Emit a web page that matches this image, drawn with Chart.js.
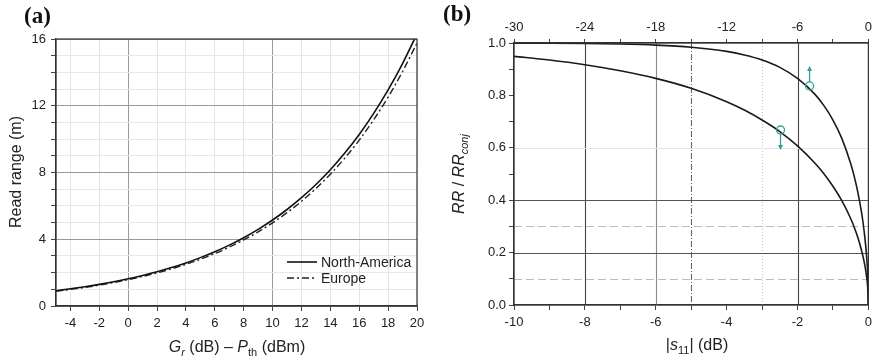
<!DOCTYPE html>
<html>
<head>
<meta charset="utf-8">
<script src="https://cdn.jsdelivr.net/npm/chart.js@4.4.1/dist/chart.umd.min.js"></script>
<style>
body { margin: 0; background: #fff; width: 877px; height: 364px; position: relative; overflow: hidden; font-family: Arial, "Liberation Sans", sans-serif; }
.panel { position: absolute; top: 0; }
.lab { position: absolute; font-family: "Liberation Serif", "Times New Roman", serif; font-weight: bold; font-size: 23px; line-height: 1; color: #111; }
.ttl { position: absolute; font-size: 16px; line-height: 1; color: #222; white-space: nowrap; transform: translate(-50%, -50%); }
.ttl.rot { transform: translate(-50%, -50%) rotate(-90deg); }
.ttl sub { font-size: 11px; vertical-align: -4px; line-height: 0; }
</style>
</head>
<body>

<canvas id="chartA" class="panel" width="440" height="364" style="left:0"></canvas>
<canvas id="chartB" class="panel" width="437" height="364" style="left:440px"></canvas>

<div class="lab" style="left:24px; top:4px">(a)</div>
<div class="lab" style="left:443px; top:2px">(b)</div>

<div class="ttl rot" style="left:16px; top:172px">Read range (m)</div>
<div class="ttl" style="left:237px; top:347px"><i>G</i><sub><i>r</i></sub> (dB) &ndash; <i>P</i><sub>th</sub> (dBm)</div>
<div class="ttl rot" style="left:459px; top:174px"><i>RR</i> / <i>RR<sub>conj</sub></i></div>
<div class="ttl" style="left:697px; top:345px">|<i>s</i><sub>11</sub>| (dB)</div>

<script>
// ---- panel (a): read range vs Gr - Pth
var aX = [-5, -4, -3, -2, -1, 0, 1, 2, 3, 4, 5, 6, 7, 8, 9, 10, 11, 12, 13, 14, 15, 16, 17, 18, 19, 20];
var aNorthAmerica = [0.917, 1.029, 1.154, 1.295, 1.453, 1.630, 1.829, 2.052, 2.302, 2.583, 2.899, 3.252, 3.649,
    4.094, 4.594, 5.154, 5.783, 6.489, 7.281, 8.169, 9.166, 10.28, 11.54, 12.95, 14.53, 16.30];
var aEurope = [0.887, 0.995, 1.116, 1.252, 1.405, 1.576, 1.769, 1.984, 2.226, 2.498, 2.803, 3.145, 3.529,
    3.959, 4.442, 4.984, 5.592, 6.275, 7.041, 7.899, 8.864, 9.940, 11.16, 12.52, 14.05, 15.76];
var aXTicks = [-4, -2, 0, 2, 4, 6, 8, 10, 12, 14, 16, 18, 20];
var aYTicks = [0, 4, 8, 12, 16];

// ---- panel (b): RR/RRconj vs |s11|
var bS11 = [-10, -9, -8, -7, -6, -5, -4, -3.5, -3, -2.5, -2, -1.5, -1.25, -1, -0.75, -0.5, -0.4, -0.3, -0.2, -0.15, -0.1, -0.05, -0.02, 0];
var bUpper = [0.9995, 0.999, 0.998, 0.996, 0.992, 0.984, 0.968, 0.954, 0.935, 0.907, 0.865, 0.803, 0.760, 0.706,
    0.636, 0.540, 0.491, 0.432, 0.359, 0.314, 0.258, 0.185, 0.117, 0];
var bLower = [0.949, 0.935, 0.917, 0.894, 0.865, 0.827, 0.776, 0.744, 0.706, 0.662, 0.607, 0.540, 0.500, 0.453,
    0.398, 0.330, 0.297, 0.259, 0.212, 0.184, 0.151, 0.107, 0.068, 0];
var bXTicks = [-10, -8, -6, -4, -2, 0];
var bTopTicks = [-30, -24, -18, -12, -6, 0];
var bYTicks = [0, 0.2, 0.4, 0.6, 0.8, 1.0];
var bGridX = [-8, -6, -5, -3, -2];
var bGridY = [0.1, 0.2, 0.3, 0.4, 0.6];
var bMarkX = [-1.66, -2.48];
var bMarkY = [0.836, 0.668];
var bMarkDir = [1, -1];

var TICK_FONT = { family: 'Arial, "Liberation Sans", sans-serif', size: 13 };
var TICK_COLOR = '#222';

function range(from, to, step) {
    var out = [];
    for (var v = from; v <= to + 1e-9; v += step) out.push(Math.round(v * 1000) / 1000);
    return out;
}

function xy(xs, ys) {
    return xs.map(function (x, i) { return { x: x, y: ys[i] }; });
}

var framePlugin = {
    id: 'frame',
    afterDraw: function (chart) {
        var a = chart.chartArea, ctx = chart.ctx;
        ctx.save();
        ctx.strokeStyle = '#333';
        ctx.lineWidth = 1.2;
        ctx.strokeRect(a.left, a.top, a.right - a.left, a.bottom - a.top);
        ctx.restore();
    }
};

var legendPlugin = {
    id: 'boxLegend',
    afterDraw: function (chart) {
        var a = chart.chartArea, ctx = chart.ctx;
        ctx.save();
        ctx.font = '14px Arial, "Liberation Sans", sans-serif';
        ctx.fillStyle = '#222';
        ctx.textBaseline = 'middle';
        chart.data.datasets.forEach(function (ds, i) {
            var x = a.right - 130, y = a.bottom - 44 + i * 16;
            ctx.strokeStyle = ds.borderColor;
            ctx.lineWidth = ds.borderWidth;
            ctx.setLineDash(ds.borderDash || []);
            ctx.beginPath();
            ctx.moveTo(x, y);
            ctx.lineTo(x + 30, y);
            ctx.stroke();
            ctx.setLineDash([]);
            ctx.fillText(ds.label, x + 34, y + 1);
        });
        ctx.restore();
    }
};

// reference lines of panel (b)
var bGridXStyle = [
    { color: '#444', dash: [] },
    { color: '#8a8a8a', dash: [] },
    { color: '#666', dash: [6, 2, 1, 2] },
    { color: '#c4c4c4', dash: [1, 2] },
    { color: '#444', dash: [] }
];
var bGridYStyle = [
    { color: '#bdbdbd', dash: [8, 4] },
    { color: '#555', dash: [] },
    { color: '#bdbdbd', dash: [8, 4] },
    { color: '#555', dash: [] },
    { color: '#f1dfe1', dash: [] }
];

var bGridPlugin = {
    id: 'bGrid',
    beforeDatasetsDraw: function (chart) {
        var a = chart.chartArea, ctx = chart.ctx;
        var xs = chart.scales.x, ys = chart.scales.y;
        ctx.save();
        ctx.lineWidth = 1.1;
        bGridX.forEach(function (v, i) {
            var px = Math.round(xs.getPixelForValue(v)) + 0.5;
            ctx.strokeStyle = bGridXStyle[i].color;
            ctx.setLineDash(bGridXStyle[i].dash);
            ctx.beginPath();
            ctx.moveTo(px, a.top);
            ctx.lineTo(px, a.bottom);
            ctx.stroke();
        });
        bGridY.forEach(function (v, i) {
            var py = Math.round(ys.getPixelForValue(v)) + 0.5;
            ctx.strokeStyle = bGridYStyle[i].color;
            ctx.setLineDash(bGridYStyle[i].dash);
            ctx.beginPath();
            ctx.moveTo(a.left, py);
            ctx.lineTo(a.right, py);
            ctx.stroke();
        });
        ctx.restore();
    }
};

var markerPlugin = {
    id: 'markers',
    afterDatasetsDraw: function (chart) {
        var ctx = chart.ctx, xs = chart.scales.x, ys = chart.scales.y;
        ctx.save();
        ctx.strokeStyle = '#2f9e98';
        ctx.fillStyle = '#2f9e98';
        ctx.lineWidth = 1.3;
        bMarkX.forEach(function (v, i) {
            var cx = xs.getPixelForValue(v), cy = ys.getPixelForValue(bMarkY[i]);
            var d = bMarkDir[i];
            ctx.beginPath();
            ctx.arc(cx, cy, 4, 0, Math.PI * 2);
            ctx.stroke();
            var y0 = cy - d * 4, y1 = cy - d * 20;
            ctx.beginPath();
            ctx.moveTo(cx, y0);
            ctx.lineTo(cx, y1 + d * 4);
            ctx.stroke();
            ctx.beginPath();
            ctx.moveTo(cx, y1);
            ctx.lineTo(cx - 2.5, y1 + d * 5);
            ctx.lineTo(cx + 2.5, y1 + d * 5);
            ctx.closePath();
            ctx.fill();
        });
        ctx.restore();
    }
};

var lineBase = { pointRadius: 0, fill: false, cubicInterpolationMode: 'monotone' };

new Chart(document.getElementById('chartA'), {
    type: 'line',
    data: {
        datasets: [
            Object.assign({ label: 'North-America', data: xy(aX, aNorthAmerica), borderColor: '#111', borderWidth: 1.6 }, lineBase),
            Object.assign({ label: 'Europe', data: xy(aX, aEurope), borderColor: '#222', borderWidth: 1.4, borderDash: [7, 3, 2, 3] }, lineBase)
        ]
    },
    options: {
        responsive: false,
        animation: false,
        devicePixelRatio: 1,
        layout: { padding: { left: 0, right: 23, top: 39, bottom: 0 } },
        plugins: { legend: { display: false }, tooltip: { enabled: false } },
        scales: {
            x: {
                type: 'linear', min: -5, max: 20,
                afterBuildTicks: function (s) { s.ticks = aXTicks.map(function (v) { return { value: v }; }); },
                afterFit: function (s) { s.height = 58; },
                ticks: { autoSkip: false, maxRotation: 0, color: TICK_COLOR, font: TICK_FONT, padding: 5 },
                grid: {
                    color: function (c) { return (c.tick && (c.tick.value === 0 || c.tick.value === 10)) ? '#9a9a9a' : '#e3e3e3'; },
                    tickColor: '#444', tickLength: 5
                },
                border: { color: '#333', width: 1.2 }
            },
            y: {
                min: 0, max: 16,
                afterBuildTicks: function (s) { s.ticks = range(0, 16, 1).map(function (v) { return { value: v }; }); },
                afterFit: function (s) { s.width = 56; },
                ticks: {
                    autoSkip: false, color: TICK_COLOR, font: TICK_FONT, padding: 5,
                    callback: function (v) { return aYTicks.indexOf(v) >= 0 ? String(v) : ''; }
                },
                grid: {
                    color: function (c) { return (c.tick && c.tick.value % 4 === 0) ? '#9a9a9a' : '#e6e6e6'; },
                    tickColor: '#444', tickLength: 5
                },
                border: { color: '#333', width: 1.2 }
            }
        }
    },
    plugins: [framePlugin, legendPlugin]
});

new Chart(document.getElementById('chartB'), {
    type: 'line',
    data: {
        datasets: [
            Object.assign({ label: 'upper', data: xy(bS11, bUpper), borderColor: '#1a1a1a', borderWidth: 1.6 }, lineBase),
            Object.assign({ label: 'lower', data: xy(bS11, bLower), borderColor: '#1a1a1a', borderWidth: 1.6 }, lineBase)
        ]
    },
    options: {
        responsive: false,
        animation: false,
        devicePixelRatio: 1,
        layout: { padding: { left: 0, right: 8, top: 0, bottom: 0 } },
        plugins: { legend: { display: false }, tooltip: { enabled: false } },
        scales: {
            x: {
                type: 'linear', position: 'bottom', min: -10, max: 0,
                afterBuildTicks: function (s) { s.ticks = range(-10, 0, 1).map(function (v) { return { value: v }; }); },
                afterFit: function (s) { s.height = 59; },
                ticks: {
                    autoSkip: false, maxRotation: 0, color: TICK_COLOR, font: TICK_FONT, padding: 5,
                    callback: function (v) { return bXTicks.indexOf(v) >= 0 ? String(v) : ''; }
                },
                grid: { drawOnChartArea: false, tickColor: '#444', tickLength: 5 },
                border: { color: '#333', width: 1.2 }
            },
            x2: {
                type: 'linear', axis: 'x', position: 'top', min: -30, max: 0,
                afterBuildTicks: function (s) { s.ticks = range(-30, 0, 3).map(function (v) { return { value: v }; }); },
                afterFit: function (s) { s.height = 43; },
                ticks: {
                    autoSkip: false, maxRotation: 0, color: TICK_COLOR, font: TICK_FONT, padding: 4,
                    callback: function (v) { return bTopTicks.indexOf(v) >= 0 ? String(v) : ''; }
                },
                grid: { drawOnChartArea: false, tickColor: '#444', tickLength: 4 },
                border: { color: '#333', width: 1.2 }
            },
            y: {
                min: 0, max: 1,
                afterBuildTicks: function (s) { s.ticks = range(0, 1, 0.1).map(function (v) { return { value: v }; }); },
                afterFit: function (s) { s.width = 74; },
                ticks: {
                    autoSkip: false, color: TICK_COLOR, font: TICK_FONT, padding: 3,
                    callback: function (v) { return bYTicks.indexOf(v) >= 0 ? v.toFixed(1) : ''; }
                },
                grid: { drawOnChartArea: false, tickColor: '#444', tickLength: 5 },
                border: { color: '#333', width: 1.2 }
            }
        }
    },
    plugins: [bGridPlugin, framePlugin, markerPlugin]
});
</script>
</body>
</html>
